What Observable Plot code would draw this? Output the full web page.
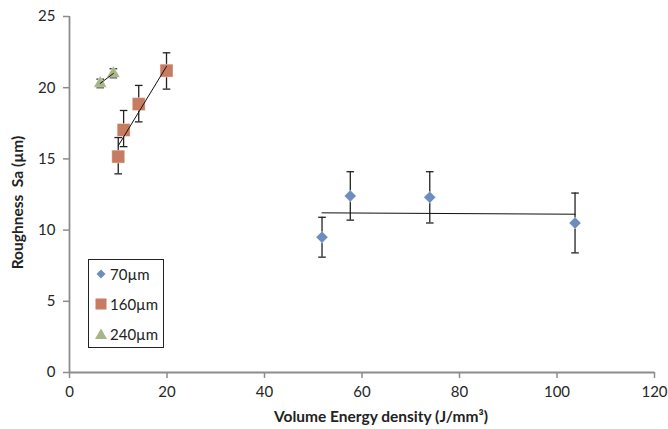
<!DOCTYPE html>
<html><head><meta charset="utf-8">
<script src="https://cdn.jsdelivr.net/npm/d3@7"></script>
<script src="https://cdn.jsdelivr.net/npm/@observablehq/plot@0.6"></script>
<style>
body{margin:0;background:#fff;}
#wrap{position:relative;width:668px;height:429px;font-family:Lato,sans-serif;}
#legend{position:absolute;left:88px;top:259px;width:76px;height:89px;border:1px solid #222;background:#fff;box-sizing:border-box;}
.item{position:absolute;left:6px;height:20px;display:flex;align-items:center;font-size:15px;color:#222;}
.item svg{margin-right:3px;}
</style></head><body><div id="wrap"></div>
<script>
const groups = ["70µm", "160µm", "240µm"];
const colors = ["#6c8ebf", "#c77c62", "#a7b587"];
const symbols = ["diamond2", "square", "triangle"];
const radii = [5.4, 7.3, 4.9];

const x70 = [51.8, 57.6, 73.9, 103.7];
const y70 = [9.5, 12.4, 12.3, 10.5];
const lo70 = [8.1, 10.7, 10.5, 8.4];
const hi70 = [10.9, 14.1, 14.1, 12.6];

const x160 = [10.0, 11.1, 14.2, 19.9];
const y160 = [15.16, 17.03, 18.85, 21.2];
const lo160 = [13.95, 15.86, 17.6, 19.9];
const hi160 = [16.5, 18.4, 20.16, 22.45];

const x240 = [6.3, 9.0];
const y240 = [20.3, 21.0];
const lo240 = [20.0, 20.7];
const hi240 = [20.6, 21.33];

const xTicks = [0, 20, 40, 60, 80, 100, 120];
const yTicks = [0, 5, 10, 15, 20, 25];
const xTitle = "Volume Energy density (J/mm³)";
const yTitle = "Roughness\u00a0 Sa (µm)";

const series = [[x70, y70, lo70, hi70], [x160, y160, lo160, hi160], [x240, y240, lo240, hi240]];
const rows = series.flatMap(([xs, ys, los, his], g) =>
  xs.map((x, i) => ({group: groups[g], x, y: ys[i], lo: los[i], hi: his[i]})));
const caps = rows.flatMap(d => [{x: d.x, y: d.lo}, {x: d.x, y: d.hi}]);

const capSymbol = {
  draw(ctx, size) {
    const w = Math.sqrt(size / Math.PI);
    ctx.moveTo(-w, 0); ctx.lineTo(w, 0);
  }
};

const axisColor = "#8c8c8c";

const chart = Plot.plot({
  width: 668, height: 429,
  marginLeft: 69, marginRight: 14, marginTop: 16, marginBottom: 57,
  style: {fontFamily: "Lato, sans-serif", fontSize: "15px", background: "#fff", color: "#222"},
  x: {domain: [0, 120]},
  y: {domain: [0, 25]},
  marks: [
    Plot.axisY(yTicks, {tickSize: 6, tickPadding: 8, stroke: axisColor, strokeWidth: 1.5, fill: "#262626", label: null}),
    Plot.axisX(xTicks, {tickSize: 6, tickPadding: 8, stroke: axisColor, strokeWidth: 1.5, fill: "#262626", label: null}),
    Plot.ruleY([0], {stroke: axisColor, strokeWidth: 1.8}),
    Plot.ruleX([0], {stroke: axisColor, strokeWidth: 1.8}),
    Plot.ruleX(rows, {x: "x", y1: "lo", y2: "hi", stroke: "#222", strokeWidth: 1.3}),
    Plot.dot(caps, {x: "x", y: "y", symbol: capSymbol, r: 3.8, fill: "none", stroke: "#222", strokeWidth: 1.3}),
    ...groups.map((g, i) => Plot.dot(rows.filter(d => d.group === g), {
      x: "x", y: "y", symbol: symbols[i], r: radii[i], fill: colors[i], stroke: "#fff", strokeWidth: 0.4
    })),
    Plot.linearRegressionY(rows, {x: "x", y: "y", z: "group", stroke: "#111", strokeWidth: 1, ci: 0}),
    Plot.text([xTitle], {frameAnchor: "bottom", lineAnchor: "middle", dy: 45, dx: 19, fontWeight: "bold", fontSize: 15.5, fill: "#222"}),
    Plot.text([yTitle], {frameAnchor: "left", textAnchor: "middle", rotate: -90, dx: -51, dy: 8, fontWeight: "bold", fontSize: 15.5, fill: "#222"})
  ]
});

const wrap = document.getElementById("wrap");
wrap.appendChild(chart);

const legend = document.createElement("div");
legend.id = "legend";
const legendShapes = [
  '<polygon points="6,1.5 10.5,6 6,10.5 1.5,6" fill="' + colors[0] + '"/>',
  '<rect x="0.5" y="0.5" width="11" height="11" fill="' + colors[1] + '"/>',
  '<polygon points="6,0.5 12,11 0,11" fill="' + colors[2] + '"/>'
];
groups.forEach((g, i) => {
  const it = document.createElement("div");
  it.className = "item";
  it.style.top = (4 + i * 30) + "px";
  it.innerHTML = '<svg width="12" height="12" viewBox="0 0 12 12">' + legendShapes[i] + '</svg><span>' + g + '</span>';
  legend.appendChild(it);
});
wrap.appendChild(legend);
</script>
</body></html>
